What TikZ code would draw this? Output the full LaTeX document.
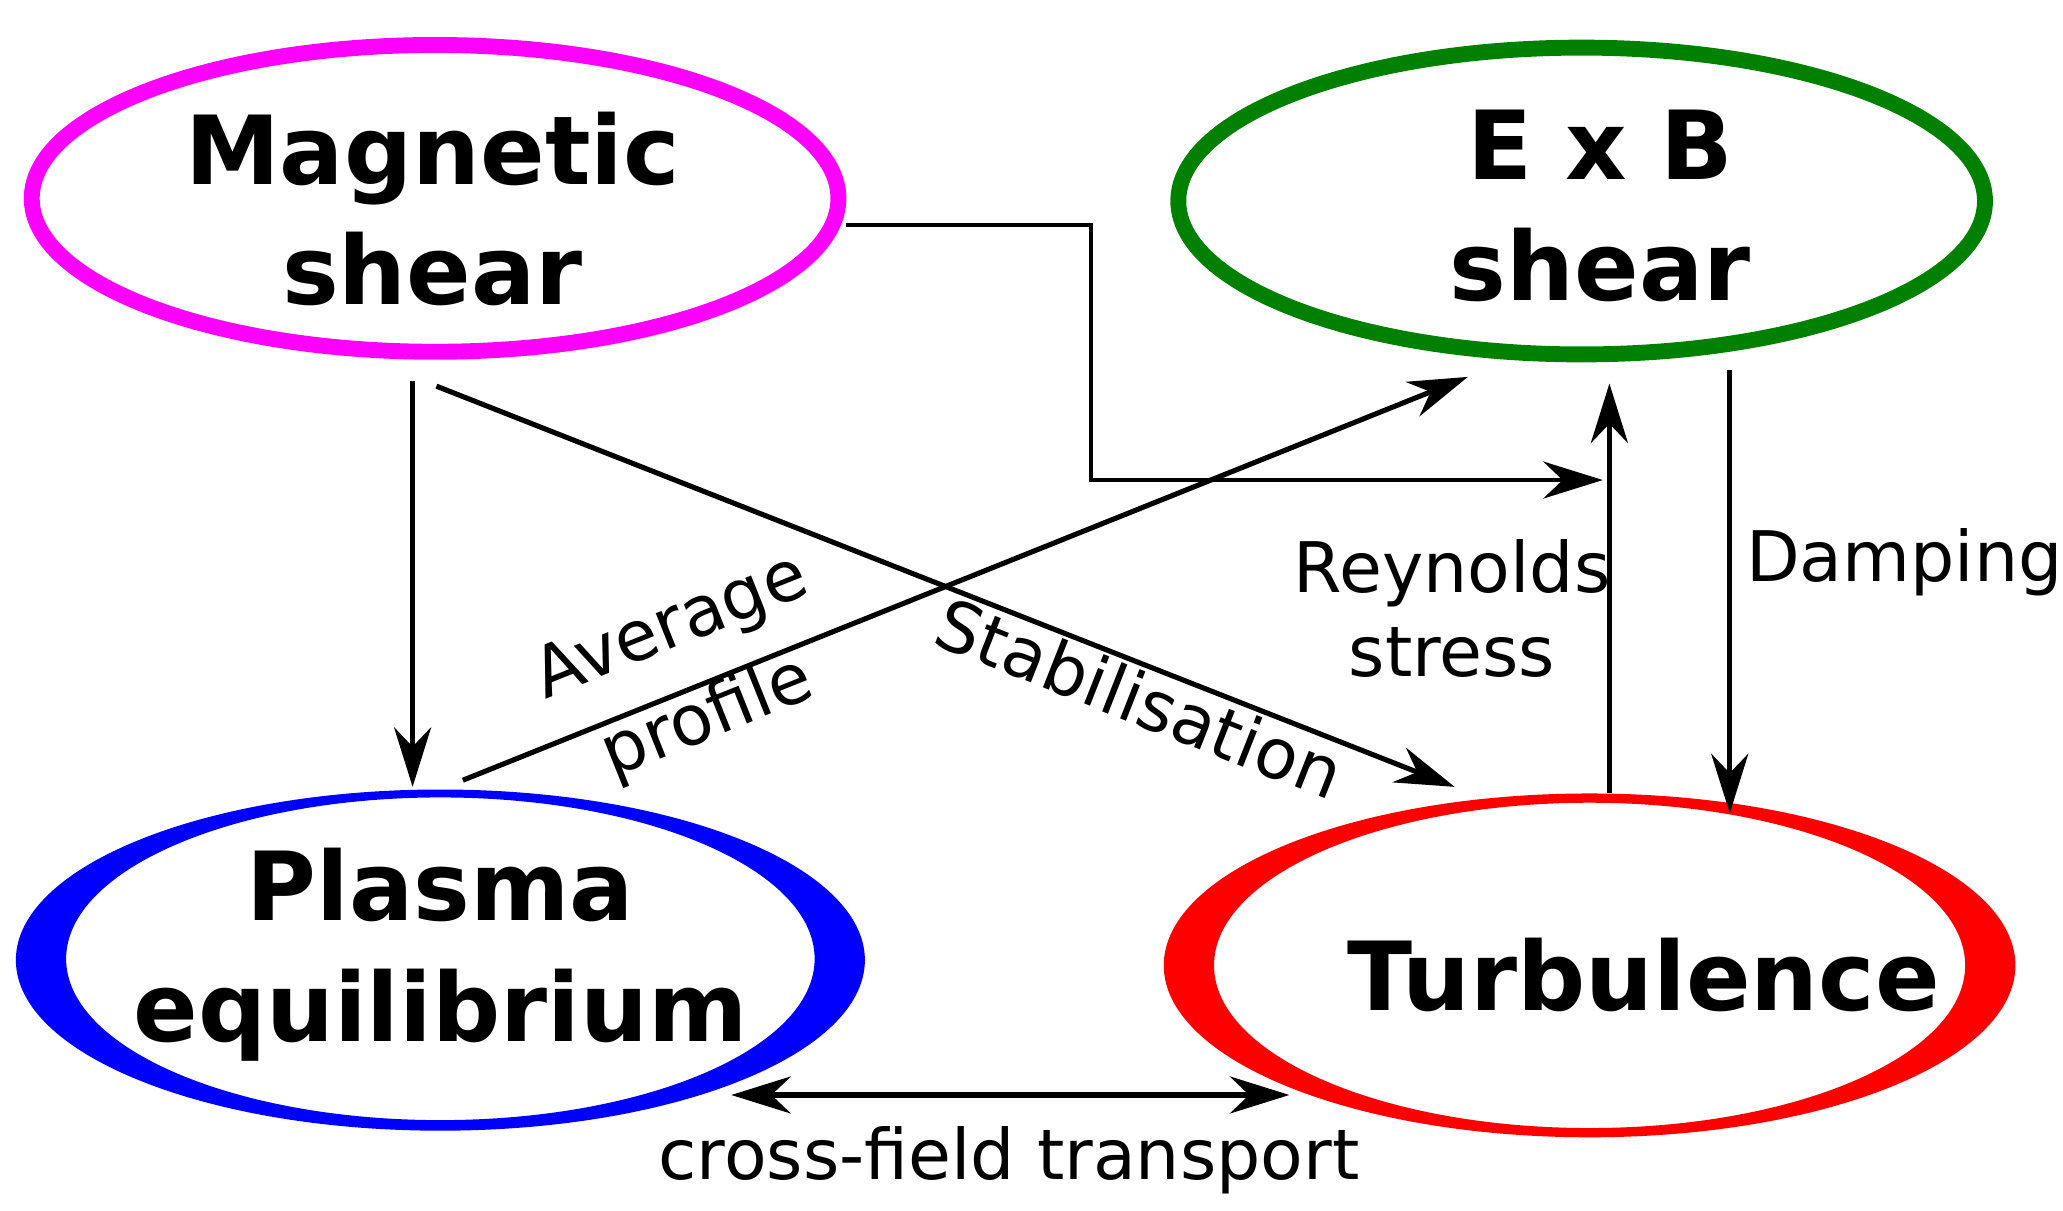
\documentclass[tikz,border=0pt]{standalone}
\usepackage{fontspec}
\setmainfont{DejaVu Sans}
\usetikzlibrary{arrows.meta}
\definecolor{mag}{RGB}{255,0,255}
\definecolor{grn}{RGB}{0,128,0}
\begin{document}
\begin{tikzpicture}[x=0.01cm,y=-0.01cm,
  big/.style={font=\fontsize{20.5}{26}\selectfont\bfseries,align=center},
  lab/.style={font=\fontsize{15}{18}\selectfont,align=center},
  arr/.style={line width=1.1pt,-{Stealth[length=0.45cm,width=0.28cm]}}]
\useasboundingbox (0,0) rectangle (1560,915);
\draw[mag,line width=0.12cm] (329,150) ellipse[x radius=305,y radius=116];
\draw[grn,line width=0.12cm] (1196,152) ellipse[x radius=305,y radius=116];
\fill[blue,even odd rule] (333,726) ellipse[x radius=321,y radius=129] (333,725) ellipse[x radius=283,y radius=122];
\fill[red,even odd rule] (1202,730) ellipse[x radius=322,y radius=130] (1202,730) ellipse[x radius=284,y radius=123];
\node[big] (ms) at (327,158) {Magnetic\\shear};
\node[big] (eb) at (1210,156) {E x B\\shear};
\node[big] (pe) at (333,722) {Plasma\\equilibrium};
\node[big] (tu) at (1243,737) {Turbulence};
\coordinate (a1) at (312,288); \coordinate (a2) at (312,595);
\draw[arr] (a1) -- (a2);
\coordinate (b1) at (330,292); \coordinate (b2) at (1100,595);
\draw[arr] (b1) -- (b2);
\coordinate (c1) at (350,590); \coordinate (c2) at (1110,285);
\draw[arr] (c1) -- (c2);
\coordinate (d1) at (640,170); \coordinate (d2) at (1212,363);
\draw[arr,line width=0.8pt] (d1) -- (825,170) -- (825,363) -- (d2);
\coordinate (e1) at (1217,600); \coordinate (e2) at (1217,290);
\draw[arr] (e1) -- (e2);
\coordinate (f1) at (1308,280); \coordinate (f2) at (1308,615);
\draw[arr] (f1) -- (f2);
\coordinate (g1) at (553,828); \coordinate (g2) at (975,828);
\draw[line width=1.1pt,{Stealth[length=0.45cm,width=0.28cm]}-{Stealth[length=0.45cm,width=0.28cm]}] (g1) -- (g2);
\node[lab,rotate=21.8,font=\fontsize{15}{21}\selectfont] (l1) at (522,510) {Average\\profile};
\node[lab,rotate=-21.5] (l2) at (862,528) {Stabilisation};
\node[lab] (l3) at (1098,460) {Reynolds\\stress};
\node[lab] (l4) at (1440,425) {Damping};
\node[lab] (l5) at (763,877) {cross-field transport};
\end{tikzpicture}
\end{document}
